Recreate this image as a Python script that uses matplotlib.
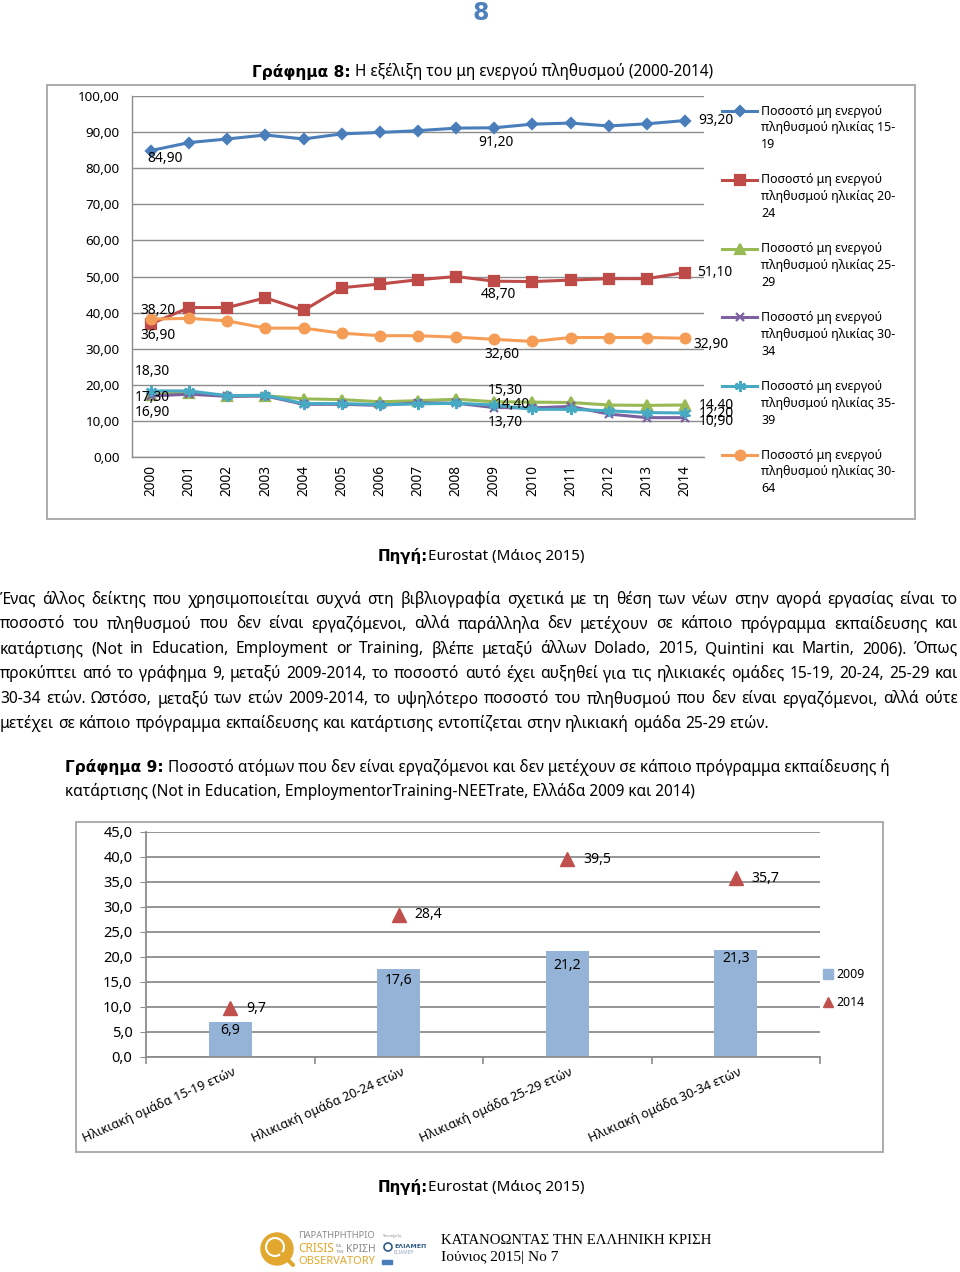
import matplotlib
matplotlib.use('Agg')
import matplotlib.pyplot as plt
from matplotlib.patches import Rectangle, Circle
from matplotlib.transforms import ScaledTranslation
import numpy as np

W, H = 960, 1272
FONT = ['Noto Sans', 'DejaVu Sans']
BOLDF = ['DejaVu Sans']
SERIF = ['Liberation Serif', 'DejaVu Serif']
plt.rcParams['font.family'] = FONT

# ---------------- data: chart 8 ----------------
years = [str(y) for y in range(2000, 2015)]
s15_19 = [84.9, 87.1, 88.1, 89.2, 88.1, 89.5, 89.9, 90.4, 91.1, 91.2, 92.2, 92.5, 91.7, 92.3, 93.2]
s20_24 = [36.9, 41.4, 41.4, 44.1, 40.6, 46.9, 47.9, 49.1, 50.0, 48.7, 48.6, 49.0, 49.4, 49.4, 51.1]
s25_29 = [17.3, 17.8, 16.9, 17.0, 16.1, 15.9, 15.3, 15.6, 16.0, 15.3, 15.2, 15.1, 14.4, 14.3, 14.4]
s30_34 = [16.9, 17.4, 16.8, 16.9, 14.6, 14.6, 14.3, 15.0, 14.9, 13.7, 13.6, 14.0, 11.9, 10.9, 10.9]
s35_39 = [18.3, 18.3, 17.0, 17.1, 14.8, 14.8, 14.5, 14.7, 14.9, 14.4, 13.2, 13.2, 12.8, 12.3, 12.2]
s30_64 = [38.2, 38.4, 37.7, 35.7, 35.7, 34.3, 33.6, 33.6, 33.2, 32.6, 32.0, 33.1, 33.1, 33.1, 32.9]
legend_labels = [
    ['Ποσοστό μη ενεργού', 'πληθυσμού ηλικίας 15-', '19'],
    ['Ποσοστό μη ενεργού', 'πληθυσμού ηλικίας 20-', '24'],
    ['Ποσοστό μη ενεργού', 'πληθυσμού ηλικίας 25-', '29'],
    ['Ποσοστό μη ενεργού', 'πληθυσμού ηλικίας 30-', '34'],
    ['Ποσοστό μη ενεργού', 'πληθυσμού ηλικίας 35-', '39'],
    ['Ποσοστό μη ενεργού', 'πληθυσμού ηλικίας 30-', '64'],
]

# ---------------- data: chart 9 ----------------
categories = ['Ηλικιακή ομάδα 15-19 ετών', 'Ηλικιακή ομάδα 20-24 ετών',
              'Ηλικιακή ομάδα 25-29 ετών', 'Ηλικιακή ομάδα 30-34 ετών']
neet_2009 = [6.9, 17.6, 21.2, 21.3]
neet_2014 = [9.7, 28.4, 39.5, 35.7]

para_lines = [
    "Ένας άλλος δείκτης που χρησιμοποιείται συχνά στη βιβλιογραφία σχετικά με τη θέση των νέων στην αγορά εργασίας είναι το",
    "ποσοστό του πληθυσμού που δεν είναι εργαζόμενοι, αλλά παράλληλα δεν μετέχουν σε κάποιο πρόγραμμα εκπαίδευσης και",
    "κατάρτισης (Not in Education, Employment or Training, βλέπε μεταξύ άλλων Dolado, 2015, Quintini και Martin, 2006). Όπως",
    "προκύπτει από το γράφημα 9, μεταξύ 2009-2014, το ποσοστό αυτό έχει αυξηθεί για τις ηλικιακές ομάδες 15-19, 20-24, 25-29 και",
    "30-34 ετών. Ωστόσο, μεταξύ των ετών 2009-2014, το υψηλότερο ποσοστό του πληθυσμού που δεν είναι εργαζόμενοι, αλλά ούτε",
    "μετέχει σε κάποιο πρόγραμμα εκπαίδευσης και κατάρτισης εντοπίζεται στην ηλικιακή ομάδα 25-29 ετών.",
]

# ---------------- figure & helpers ----------------
fig = plt.figure(figsize=(W / 100, H / 100), dpi=100)
ax0 = fig.add_axes([0, 0, 1, 1], zorder=0)
ax0.set_xlim(0, W)
ax0.set_ylim(H, 0)
ax0.axis('off')
renderer = fig.canvas.get_renderer()


def rect(x0, y0, x1, y1):
    return [x0 / W, 1 - y1 / H, (x1 - x0) / W, (y1 - y0) / H]


def fam_for(weight, family=None):
    if family is not None:
        return family
    return BOLDF if weight == 'bold' else FONT


def measure(txt, size=10, weight='normal', family=None):
    t = ax0.text(0, 0, txt, fontsize=size, fontweight=weight, family=fam_for(weight, family))
    w = t.get_window_extent(renderer).width
    t.remove()
    return w


def fit(txt, target, weight='normal', family=None):
    return 10 * target / measure(txt, 10, weight, family)


def space_w(size, family=None):
    return measure('a a', size, family=family) - measure('aa', size, family=family)


def draw_runs(x, y, runs, size, color='black'):
    for txt, wt in runs:
        if txt == ' ':
            x += space_w(size)
            continue
        ax0.text(x, y, txt, fontsize=size, fontweight=wt, family=fam_for(wt),
                 ha='left', va='center', color=color)
        x += measure(txt, size, wt)


def runs_width(runs, size):
    tot = 0
    for txt, wt in runs:
        tot += space_w(size) if txt == ' ' else measure(txt, size, wt)
    return tot


def fmt2(v):
    return f"{v:.2f}".replace('.', ',')


def fmt1(v):
    return f"{v:.1f}".replace('.', ',')


GRID = '#8C8C8C'
FRAME = '#A6A6A6'

# ---------------- page number ----------------
ax0.text(481, 13, '8', fontsize=17, fontweight='bold', family=BOLDF, color='#4F81BD',
         ha='center', va='center')

# ---------------- chart 8 ----------------
title8 = [('Γράφημα 8:', 'bold'), (' ', 'normal'),
          ('Η εξέλιξη του μη ενεργού πληθυσμού (2000-2014)', 'normal')]
fs_t8 = 10 * 458 / runs_width(title8, 10)
draw_runs(252, 72, title8, fs_t8)
ax0.add_patch(Rectangle((47, 85), 868, 434, fill=False, edgecolor=FRAME, lw=1.3))

ax1 = fig.add_axes(rect(132, 96, 704, 457), zorder=1)
x = np.arange(len(years))
colors = ['#4A7EBB', '#BE4B48', '#98B954', '#7D60A0', '#46AAC5', '#F59D56']
markers = ['D', 's', '^', 'x', (6, 2, 0), 'o']
msizes = [5.5, 6.5, 7, 6, 8, 7]
all_series = [s15_19, s20_24, s25_29, s30_34, s35_39, s30_64]
for vals, col, mk, ms in zip(all_series, colors, markers, msizes):
    ax1.plot(x, vals, color=col, lw=2.2, marker=mk, ms=ms, mfc=col, mec=col,
             mew=1.6, zorder=3)

ax1.set_xlim(-0.5, 14.5)
ax1.set_ylim(0, 100)
ax1.set_yticks(np.arange(0, 101, 10))
fs_ytk = fit('100,00', 40) * 1.04
ax1.set_yticklabels([fmt2(v) for v in np.arange(0, 101, 10)], fontsize=fs_ytk)
ax1.set_xticks(x)
fs_yr = fit('2000', 30) * 1.03
ax1.set_xticklabels(years, rotation=90, fontsize=fs_yr)
ax1.tick_params(axis='y', length=0, pad=9.0)
ax1.tick_params(axis='x', length=0, pad=5.5)
ax1.yaxis.grid(True, color=GRID, lw=1.0)
ax1.set_axisbelow(True)
for s in ['top', 'right']:
    ax1.spines[s].set_visible(False)
for s in ['left', 'bottom']:
    ax1.spines[s].set_color(GRID)
    ax1.spines[s].set_linewidth(1.0)

fs_dl = fit('84,90', 34) * 1.04
# (series index, point index, dx px, dy px)
label_specs = [
    (0, 0, 14, -8), (0, 9, 2, -15), (0, 14, 31, 0),
    (5, 0, 7, 9), (1, 0, 7, -12), (1, 9, 4, -13), (1, 14, 30, 0),
    (5, 9, 8, -15), (5, 14, 26, -6),
    (4, 0, 1, 19), (2, 0, 1, -3), (3, 0, 1, -17),
    (2, 9, 11, 11), (4, 9, 18, 1), (3, 9, 11, -15),
    (2, 14, 31, 0), (4, 14, 31, -1), (3, 14, 31, -4),
]
for si, pi, dx, dy in label_specs:
    v = all_series[si][pi]
    ax1.annotate(fmt2(v), (pi, v), xytext=(dx, dy), textcoords='offset pixels',
                 ha='center', va='center', fontsize=fs_dl, zorder=5,
                 annotation_clip=False)

# legend (chart 8)
fs_lg = fit('Ποσοστό μη ενεργού', 122)
for i, (lines, col, mk, ms) in enumerate(zip(legend_labels, colors, markers, msizes)):
    y0 = 111 + i * 68.8
    ax0.plot([722, 757], [y0, y0], color=col, lw=2.2)
    ax0.plot([739.5], [y0], ls='none', marker=mk, ms=ms, color=col, mfc=col, mec=col, mew=1.6)
    for j, ln in enumerate(lines):
        ax0.text(761, y0 + j * 17, ln, fontsize=fs_lg, ha='left', va='center')

# source line 1
src = [('Πηγή:', 'bold'), ('Eurostat (Μάιος 2015)', 'normal')]
fs_src = 10 * 206 / runs_width(src, 10)
draw_runs(378, 556, src, fs_src)

# ---------------- paragraph ----------------
fs_p = fit(para_lines[-1], 767)
for ln in para_lines[:-1]:
    words = ln.split()
    nat = sum(measure(w, 10) for w in words) + (len(words) - 1) * space_w(10) * 0.7
    fs_p = min(fs_p, 10 * 958 / nat)
line_y = [600, 624.5, 649, 674, 699, 724]
for k, (ln, yy) in enumerate(zip(para_lines, line_y)):
    words = ln.split()
    widths = [measure(w, fs_p) for w in words]
    if k == len(para_lines) - 1:
        gap = space_w(fs_p)
    else:
        gap = (958 - sum(widths)) / (len(words) - 1)
    xx = 0
    for w, wd in zip(words, widths):
        ax0.text(xx, yy, w, fontsize=fs_p, ha='left', va='center')
        xx += wd + gap

# ---------------- chart 9 ----------------
t9a = [('Γράφημα 9:', 'bold'), (' ', 'normal'),
       ('Ποσοστό ατόμων που δεν είναι εργαζόμενοι και δεν μετέχουν σε κάποιο πρόγραμμα εκπαίδευσης ή', 'normal')]
fs_t9 = 10 * 820 / runs_width(t9a, 10)
draw_runs(65, 767, t9a, fs_t9)
draw_runs(65, 792, [('κατάρτισης (Not in Education, EmploymentorTraining-NEETrate, Ελλάδα 2009 και 2014)', 'normal')], fs_t9)

ax0.add_patch(Rectangle((76, 822), 807, 330, fill=False, edgecolor=FRAME, lw=1.3))
ax2 = fig.add_axes(rect(146, 831.7, 820, 1057), zorder=1)
xc = np.arange(len(categories))
bar_col = '#95B3D7'
tri_col = '#C0504D'
ax2.bar(xc, neet_2009, width=0.256, color=bar_col, zorder=2)
ax2.plot(xc, neet_2014, ls='none', marker='^', ms=10, color=tri_col, zorder=3)
ax2.set_xlim(-0.5, 3.5)
ax2.set_ylim(0, 45)
yt2 = np.arange(0, 46, 5)
ax2.set_yticks(yt2)
fs_ytk2 = fit('45,0', 29)
ax2.set_yticklabels([fmt1(v) for v in yt2], fontsize=fs_ytk2)
ax2.tick_params(axis='y', length=4, color=GRID, pad=5.8)
ax2.yaxis.grid(True, color=GRID, lw=1.3)
ax2.set_axisbelow(True)
for s in ['top', 'right']:
    ax2.spines[s].set_visible(False)
for s in ['left', 'bottom']:
    ax2.spines[s].set_color(GRID)
    ax2.spines[s].set_linewidth(1.3)
ax2.set_xticks(xc)
fs_cat = fit(categories[0], 165)
ax2.set_xticklabels(categories, rotation=24, ha='right', va='top',
                    rotation_mode='anchor', fontsize=fs_cat)
ax2.tick_params(axis='x', which='major', length=0, pad=6)
ax2.set_xticks(np.arange(-0.5, 4, 1), minor=True)
ax2.tick_params(axis='x', which='minor', length=5, color=GRID, width=1.2, direction='out')
for lbl in ax2.get_xticklabels():
    lbl.set_transform(lbl.get_transform() + ScaledTranslation(0.02, 0, fig.dpi_scale_trans))

fs_bl = fs_ytk2 * 0.95
bar_label_dy = [-8.5, -12, -15, -8]
for xi, v, dy in zip(xc, neet_2009, bar_label_dy):
    ax2.annotate(fmt1(v), (xi, v), xytext=(0, dy), textcoords='offset pixels',
                 ha='center', va='center', fontsize=fs_bl, zorder=5)
for xi, v in zip(xc, neet_2014):
    ax2.annotate(fmt1(v), (xi, v), xytext=(16, 0), textcoords='offset pixels',
                 ha='left', va='center', fontsize=fs_bl, zorder=5)

# legend (chart 9)
fs_lg2 = fit('2009', 28)
ax0.plot([828], [974], ls='none', marker='s', ms=6.5, color=bar_col)
ax0.text(836, 974, '2009', fontsize=fs_lg2, ha='left', va='center')
ax0.plot([828], [1002], ls='none', marker='^', ms=7, color=tri_col)
ax0.text(836, 1002, '2014', fontsize=fs_lg2, ha='left', va='center')

# source line 2
draw_runs(378, 1187, src, fs_src)

# ---------------- footer ----------------
gold = '#E2A72E'
greyt = '#8A8A8A'
ax0.add_patch(Circle((277, 1249), 16, color=gold))
ax0.add_patch(Circle((275, 1247), 9, fill=False, edgecolor='white', lw=1.5))
ax0.plot([282, 293], [1254, 1265], color=gold, lw=3, solid_capstyle='round')
ax0.text(298, 1236, 'ΠΑΡΑΤΗΡΗΤΗΡΙΟ', fontsize=fit('ΠΑΡΑΤΗΡΗΤΗΡΙΟ', 77), color=greyt, ha='left', va='center')
ax0.text(298, 1249, 'CRISIS', fontsize=fit('CRISIS', 36), color=gold, ha='left', va='center')
ax0.text(336, 1246, 'ΓΙΑ', fontsize=3, color=greyt, ha='left', va='center')
ax0.text(336, 1252, 'ΤΗΝ', fontsize=3, color=greyt, ha='left', va='center')
ax0.text(346, 1249, 'ΚΡΙΣΗ', fontsize=fit('ΚΡΙΣΗ', 30), color=greyt, ha='left', va='center')
ax0.text(298, 1262, 'OBSERVATORY', fontsize=fit('OBSERVATORY', 77), color=gold, ha='left', va='center')
ax0.text(383, 1236, 'Υποστήριξη', fontsize=2.5, color=greyt, ha='left', va='center')
ax0.add_patch(Circle((388, 1247), 4, fill=False, edgecolor='#2E5C8A', lw=1.2))
ax0.text(394, 1246, 'ΕΛΙΑΜΕΠ', fontsize=4.5, fontweight='bold', family=BOLDF, color='#2E5C8A', ha='left', va='center')
ax0.text(394, 1252, 'ELIAMEP', fontsize=3.5, color='#8FA8C0', ha='left', va='center')
ax0.add_patch(Rectangle((382, 1260), 10, 4, color='#4A7EBB'))
ax0.text(441, 1241, 'ΚΑΤΑΝΟΩΝΤΑΣ ΤΗΝ ΕΛΛΗΝΙΚΗ ΚΡΙΣΗ',
         fontsize=fit('ΚΑΤΑΝΟΩΝΤΑΣ ΤΗΝ ΕΛΛΗΝΙΚΗ ΚΡΙΣΗ', 271, family=SERIF),
         family=SERIF, ha='left', va='center')
ax0.text(441, 1258, 'Ιούνιος 2015| Νο 7',
         fontsize=fit('Ιούνιος 2015| Νο 7', 117, family=SERIF),
         family=SERIF, ha='left', va='center')

fig.savefig('out.png', dpi=100)
